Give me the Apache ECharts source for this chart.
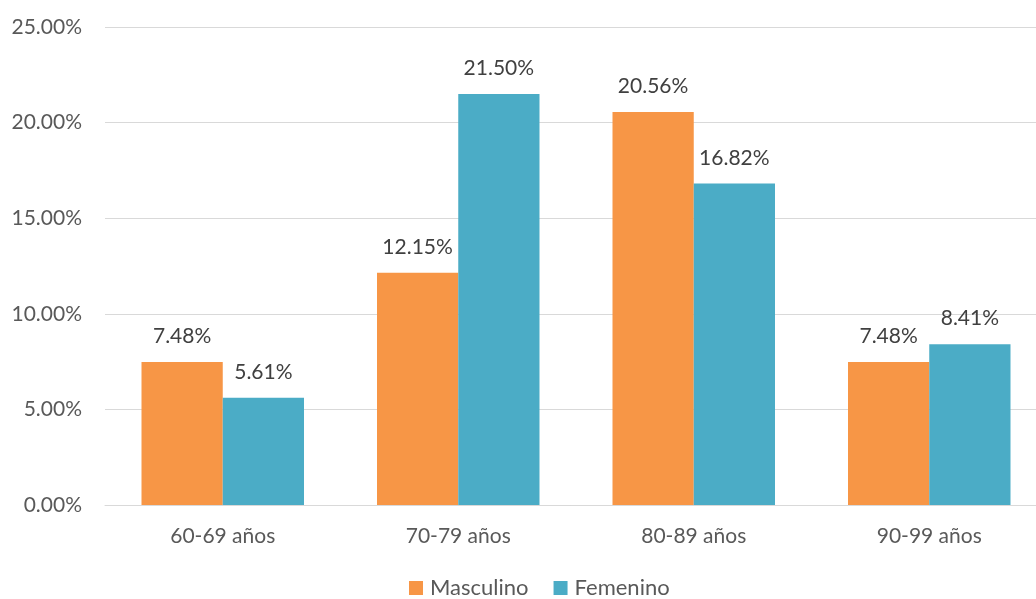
<!DOCTYPE html>
<html>
<head>
<meta charset="utf-8">
<script src="https://cdn.jsdelivr.net/npm/echarts@6/dist/echarts.min.js"></script>
<style>
  html, body { margin: 0; padding: 0; background: #fff; }
  #chart { width: 1036px; height: 599px; }
</style>
</head>
<body>
<div id="chart"></div>
<script>
// Age groups and share of each sex (percent)
const categories = ['60-69 años', '70-79 años', '80-89 años', '90-99 años'];
const masculino = [7.48, 12.15, 20.56, 7.48];
const femenino = [5.61, 21.50, 16.82, 8.41];
const seriesNames = ['Masculino', 'Femenino'];
const colors = ['#F79646', '#4BACC6'];

const fontFamily = 'Lato, "Open Sans", "Noto Sans", sans-serif';

const chart = echarts.init(document.getElementById('chart'));

const labelStyle = {
  show: true,
  position: 'top',
  distance: 15,
  color: '#404040',
  fontSize: 21,
  fontFamily: fontFamily,
  formatter: p => p.value.toFixed(2) + '%'
};

chart.setOption({
  animation: false,
  color: colors,
  textStyle: { fontFamily: fontFamily },
  grid: { left: 105, right: -11, top: 27, bottom: 94, containLabel: false, outerBoundsMode: 'none' },
  legend: {
    top: 572,
    left: 404,
    itemWidth: 14,
    itemHeight: 14,
    itemGap: 25,
    icon: 'rect',
    textStyle: { color: '#595959', fontSize: 22, fontFamily: fontFamily, padding: [0, 0, 0, 2] },
    data: seriesNames
  },
  xAxis: {
    type: 'category',
    data: categories,
    axisLine: { lineStyle: { color: '#d9d9d9', width: 1 } },
    axisTick: { show: false },
    axisLabel: { color: '#595959', fontSize: 21, margin: 21, fontFamily: fontFamily }
  },
  yAxis: {
    type: 'value',
    min: 0,
    max: 25,
    interval: 5,
    axisLine: { show: false },
    axisTick: { show: false },
    splitLine: { lineStyle: { color: '#d9d9d9', width: 1 } },
    axisLabel: {
      color: '#595959',
      fontSize: 21,
      margin: 23,
      fontFamily: fontFamily,
      formatter: v => v.toFixed(2) + '%'
    }
  },
  series: [
    {
      name: seriesNames[0],
      type: 'bar',
      data: masculino,
      barGap: '0%',
      barCategoryGap: '31%',
      label: labelStyle
    },
    {
      name: seriesNames[1],
      type: 'bar',
      data: femenino,
      barGap: '0%',
      barCategoryGap: '31%',
      label: labelStyle
    }
  ]
});
</script>
</body>
</html>
